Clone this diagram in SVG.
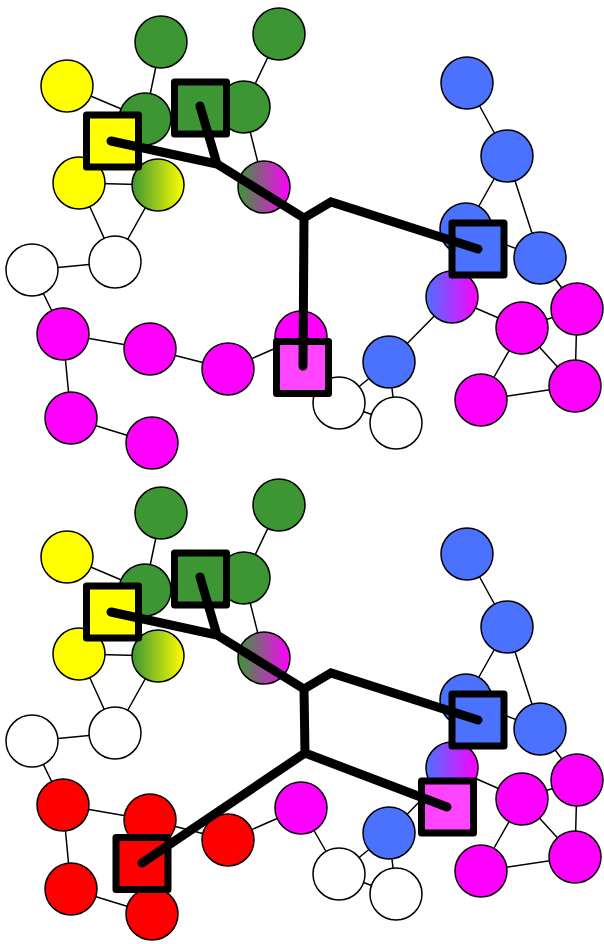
<svg xmlns="http://www.w3.org/2000/svg" width="604" height="944" viewBox="0 0 604 944">
<style>
.e{stroke:#000;stroke-width:1.5;fill:none}
.n{stroke:#000;stroke-width:1.5}
.gr{fill:#3c9633}.ye{fill:#ffff00}.wh{fill:#fff}.ma{fill:#ff00ff}.bl{fill:#4b71ff}.re{fill:#ff0000}
.gy{fill:url(#ggy)}.gm{fill:url(#ggm)}.bm{fill:url(#gbm)}
.sq{stroke:#000;stroke-width:7;stroke-linejoin:round}
.sqm{fill:#ff44ff}
.t{stroke:#000;stroke-width:9;fill:none;stroke-linecap:round;stroke-linejoin:miter}
</style>
<defs>
<linearGradient id="ggy" x1="0" y1="0" x2="1" y2="0"><stop offset="0" stop-color="#3c9633"/><stop offset="1" stop-color="#ffff00"/></linearGradient>
<linearGradient id="ggm" x1="0" y1="0" x2="1" y2="0"><stop offset="0" stop-color="#3c9633"/><stop offset="1" stop-color="#ff00ff"/></linearGradient>
<linearGradient id="gbm" x1="0" y1="0" x2="1" y2="0"><stop offset="0" stop-color="#4b71ff"/><stop offset="1" stop-color="#ff00ff"/></linearGradient>
</defs>
<rect width="604" height="944" fill="#fff"/>
<g id="panel-top">
<g id="edges-top">
<path class="e" d="M161,42L145,119M279,34L244,107M67,86L145,119M244,107L264,187M79,183L158,185M79,183L115,262M158,185L115,262M32,270L115,262M32,270L63,334M63,334L150,349M63,334L71,418M71,418L152,443M150,349L228,369M228,369L301,337M301,337L339,403M389,362L339,403M389,362L396,423M339,403L396,423M389,362L452,298M452,298L522,328M522,328L577,309M522,328L575,386M522,328L481,400M481,400L575,386M577,309L575,386M540,258L577,309M466,229L507,156M507,156L540,258M467,83L507,156M466,229L540,258"/>
</g>
<g id="t-g1"><circle class="n gr" cx="161" cy="42" r="26"/></g>
<g id="t-g2"><circle class="n gr" cx="279" cy="34" r="26"/></g>
<g id="t-y1"><circle class="n ye" cx="67" cy="86" r="26"/></g>
<g id="t-g3"><circle class="n gr" cx="145" cy="119" r="26"/></g>
<g id="t-g4"><circle class="n gr" cx="244" cy="107" r="26"/></g>
<g id="t-y2"><circle class="n ye" cx="79" cy="183" r="26"/></g>
<g id="t-gy"><circle class="n gy" cx="158" cy="185" r="26"/></g>
<g id="t-gm"><circle class="n gm" cx="264" cy="187" r="26"/></g>
<g id="t-w1"><circle class="n wh" cx="32" cy="270" r="26"/></g>
<g id="t-w2"><circle class="n wh" cx="115" cy="262" r="26"/></g>
<g id="t-m1"><circle class="n ma" cx="63" cy="334" r="26"/></g>
<g id="t-m2"><circle class="n ma" cx="150" cy="349" r="26"/></g>
<g id="t-m3"><circle class="n ma" cx="228" cy="369" r="26"/></g>
<g id="t-m4"><circle class="n ma" cx="71" cy="418" r="26"/></g>
<g id="t-m5"><circle class="n ma" cx="152" cy="443" r="26"/></g>
<g id="t-m6"><circle class="n ma" cx="301" cy="337" r="26"/></g>
<g id="t-b1"><circle class="n bl" cx="467" cy="83" r="26"/></g>
<g id="t-b2"><circle class="n bl" cx="507" cy="156" r="26"/></g>
<g id="t-b3"><circle class="n bl" cx="466" cy="229" r="26"/></g>
<g id="t-b4"><circle class="n bl" cx="540" cy="258" r="26"/></g>
<g id="t-bm"><circle class="n bm" cx="452" cy="297" r="26"/></g>
<g id="t-b5"><circle class="n bl" cx="389" cy="362" r="26"/></g>
<g id="t-w3"><circle class="n wh" cx="339" cy="403" r="26"/></g>
<g id="t-w4"><circle class="n wh" cx="396" cy="423" r="26"/></g>
<g id="t-m7"><circle class="n ma" cx="522" cy="328" r="26"/></g>
<g id="t-m8"><circle class="n ma" cx="577" cy="309" r="26"/></g>
<g id="t-m9"><circle class="n ma" cx="575" cy="386" r="26"/></g>
<g id="t-m10"><circle class="n ma" cx="481" cy="400" r="26"/></g>
<g id="t-sq-yellow"><rect class="sq ye" x="86.5" y="115" width="52" height="52"/></g>
<g id="t-sq-green"><rect class="sq gr" x="174.5" y="82" width="52" height="52"/></g>
<g id="t-sq-blue"><rect class="sq bl" x="452" y="223" width="52" height="52"/></g>
<g id="t-sq-magenta"><rect class="sq sqm" x="276.5" y="341.5" width="52" height="52"/></g>
<g id="tree-top">
<path class="t" d="M111,141L217,164L304,218M200,106L217,164M304,218L331,202L478,249M304,218L303,366"/>
</g>
</g>
<g id="panel-bottom">
<g id="edges-bottom">
<path class="e" d="M161,513L145,590M279,505L244,578M67,557L145,590M244,578L264,658M79,654L158,656M79,654L115,733M158,656L115,733M32,741L115,733M32,741L63,805M63,805L150,820M63,805L71,889M71,889L152,914M150,820L228,840M228,840L301,808M301,808L339,874M389,833L339,874M389,833L396,894M339,874L396,894M389,833L452,768M452,768L522,799M522,799L577,780M522,799L575,857M522,799L481,871M481,871L575,857M577,780L575,857M540,729L577,780M466,700L507,627M507,627L540,729M467,554L507,627M466,700L540,729"/>
</g>
<g id="b-g1"><circle class="n gr" cx="161" cy="513" r="26"/></g>
<g id="b-g2"><circle class="n gr" cx="279" cy="505" r="26"/></g>
<g id="b-y1"><circle class="n ye" cx="67" cy="557" r="26"/></g>
<g id="b-g3"><circle class="n gr" cx="145" cy="590" r="26"/></g>
<g id="b-g4"><circle class="n gr" cx="244" cy="578" r="26"/></g>
<g id="b-y2"><circle class="n ye" cx="79" cy="654" r="26"/></g>
<g id="b-gy"><circle class="n gy" cx="158" cy="656" r="26"/></g>
<g id="b-gm"><circle class="n gm" cx="264" cy="658" r="26"/></g>
<g id="b-w1"><circle class="n wh" cx="32" cy="741" r="26"/></g>
<g id="b-w2"><circle class="n wh" cx="115" cy="733" r="26"/></g>
<g id="b-r1"><circle class="n re" cx="63" cy="805" r="26"/></g>
<g id="b-r2"><circle class="n re" cx="150" cy="820" r="26"/></g>
<g id="b-r3"><circle class="n re" cx="228" cy="840" r="26"/></g>
<g id="b-r4"><circle class="n re" cx="71" cy="889" r="26"/></g>
<g id="b-r5"><circle class="n re" cx="152" cy="914" r="26"/></g>
<g id="b-m6"><circle class="n ma" cx="301" cy="808" r="26"/></g>
<g id="b-b1"><circle class="n bl" cx="467" cy="554" r="26"/></g>
<g id="b-b2"><circle class="n bl" cx="507" cy="627" r="26"/></g>
<g id="b-b3"><circle class="n bl" cx="466" cy="700" r="26"/></g>
<g id="b-b4"><circle class="n bl" cx="540" cy="729" r="26"/></g>
<g id="b-bm"><circle class="n bm" cx="452" cy="768" r="26"/></g>
<g id="b-b5"><circle class="n bl" cx="389" cy="833" r="26"/></g>
<g id="b-w3"><circle class="n wh" cx="339" cy="874" r="26"/></g>
<g id="b-w4"><circle class="n wh" cx="396" cy="894" r="26"/></g>
<g id="b-m7"><circle class="n ma" cx="522" cy="799" r="26"/></g>
<g id="b-m8"><circle class="n ma" cx="577" cy="780" r="26"/></g>
<g id="b-m9"><circle class="n ma" cx="575" cy="857" r="26"/></g>
<g id="b-m10"><circle class="n ma" cx="481" cy="871" r="26"/></g>
<g id="b-sq-yellow"><rect class="sq ye" x="86.5" y="586" width="52" height="52"/></g>
<g id="b-sq-green"><rect class="sq gr" x="174.5" y="553" width="52" height="52"/></g>
<g id="b-sq-blue"><rect class="sq bl" x="452" y="694" width="52" height="52"/></g>
<g id="b-sq-red"><rect class="sq re" x="116" y="837.5" width="52" height="52"/></g>
<g id="b-sq-magenta"><rect class="sq sqm" x="421.5" y="781" width="52" height="52"/></g>
<g id="tree-bottom">
<path class="t" d="M111,612L217,635L304,689M200,577L217,635M304,689L331,673L478,720M304,689L305,753L142,863M305,753L447,807"/>
</g>
</g>
</svg>
